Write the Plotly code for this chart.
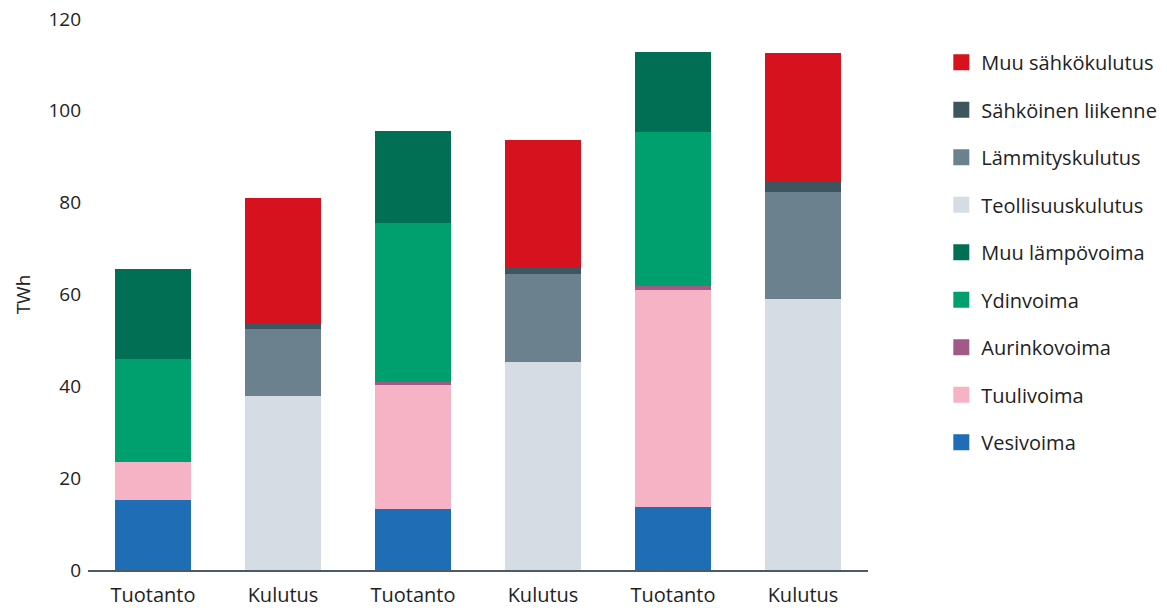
import plotly.graph_objects as go

tick_labels = ["Tuotanto", "Kulutus", "Tuotanto", "Kulutus", "Tuotanto", "Kulutus"]
prod_idx = [0, 2, 4]
cons_idx = [1, 3, 5]

# Production (TWh) for the three scenarios
vesivoima = [15.2, 13.2, 13.8]
tuulivoima = [8.3, 27.2, 47.1]
aurinkovoima = [0.0, 0.45, 1.0]
ydinvoima = [22.4, 34.8, 33.5]
muu_lampovoima = [19.7, 19.9, 17.5]

# Consumption (TWh) for the three scenarios
teollisuuskulutus = [37.8, 45.3, 59.0]
lammityskulutus = [14.7, 19.2, 23.4]
sahkoinen_liikenne = [1.2, 1.4, 2.0]
muu_sahkokulutus = [27.3, 27.7, 28.1]

prod_series = [
    ("Vesivoima", vesivoima, "#1F6DB5"),
    ("Tuulivoima", tuulivoima, "#F5B3C5"),
    ("Aurinkovoima", aurinkovoima, "#A05A85"),
    ("Ydinvoima", ydinvoima, "#00A06E"),
    ("Muu lämpövoima", muu_lampovoima, "#006F54"),
]
cons_series = [
    ("Teollisuuskulutus", teollisuuskulutus, "#D5DCE3"),
    ("Lämmityskulutus", lammityskulutus, "#6C818E"),
    ("Sähköinen liikenne", sahkoinen_liikenne, "#3E5560"),
    ("Muu sähkökulutus", muu_sahkokulutus, "#D5121E"),
]

fig = go.Figure()
rank = 100
for idx, series in ((prod_idx, prod_series), (cons_idx, cons_series)):
    for name, vals, color in series:
        fig.add_trace(go.Bar(x=idx, y=vals, name=name, legendgroup=name,
                             showlegend=False,
                             marker=dict(color=color, line=dict(width=0))))
        # legend entry with a larger square swatch
        fig.add_trace(go.Scatter(x=[None], y=[None], mode="markers", name=name,
                                 legendgroup=name, legendrank=rank,
                                 hoverinfo="skip",
                                 marker=dict(symbol="square", size=16, color=color,
                                             line=dict(width=0))))
        rank -= 1

font_family = "Open Sans, Roboto, sans-serif"
txt = "#222222"
fig.update_layout(
    width=1167, height=608,
    barmode="stack", bargap=0.42,
    plot_bgcolor="white", paper_bgcolor="white",
    margin=dict(l=88, r=299, t=19, b=38, autoexpand=False),
    font=dict(family=font_family, size=20, color=txt),
    xaxis=dict(
        tickmode="array", tickvals=list(range(6)), ticktext=tick_labels,
        range=[-0.5, 5.5], showgrid=False, zeroline=False,
        showline=True, linecolor="#4A5A66", linewidth=2,
        ticks="", tickfont=dict(size=20, color=txt),
        automargin=False, ticklabelstandoff=6,
    ),
    yaxis=dict(
        range=[0, 120], tickvals=[0, 20, 40, 60, 80, 100, 120],
        showgrid=False, zeroline=False, showline=False, ticks="",
        tickfont=dict(size=19, color=txt), automargin=False,
        ticklabelstandoff=6,
        title=dict(text="TWh", font=dict(size=19, color=txt), standoff=12),
    ),
    legend=dict(
        x=1.094, xanchor="left", y=0.957, yanchor="top",
        traceorder="grouped", tracegroupgap=18.5,
        itemsizing="trace",
        font=dict(size=20, color=txt),
        bgcolor="rgba(0,0,0,0)",
    ),
)

fig.write_html("out.html")
